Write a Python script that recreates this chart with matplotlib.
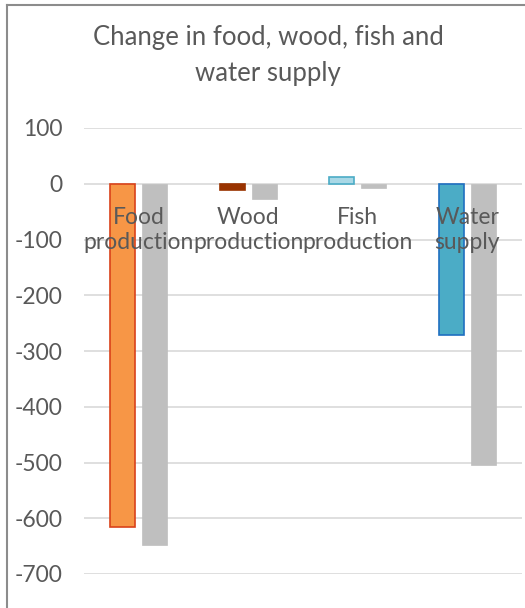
import matplotlib.pyplot as plt
import numpy as np
from matplotlib.lines import Line2D

plt.rcParams['font.family'] = ['Lato', 'DejaVu Sans']
plt.rcParams['axes.unicode_minus'] = False

categories = ["Food\nproduction", "Wood\nproduction", "Fish\nproduction", "Water\nsupply"]
change_a = [-616, -12, 12, -271]
change_b = [-648, -27, -7, -504]

face_a = ["#F79646", "#993300", "#A9D8E6", "#4BACC6"]
edge_a = ["#D9421A", "#993300", "#4BACC6", "#1F6FC0"]
gray = "#BFBFBF"
text_color = "#595959"

fig = plt.figure(figsize=(5.25, 6.08), dpi=100)
ax = fig.add_axes([84 / 525, 34 / 608, 438 / 525, 446 / 608])

x = np.arange(len(categories))
w = 0.23
off = 0.145
ax.bar(x - off, change_a, width=w, color=face_a, edgecolor=edge_a, linewidth=1.2, zorder=3)
ax.bar(x + off, change_b, width=w, color=gray, edgecolor=gray, linewidth=0.5, zorder=3)

ax.set_xlim(-0.5, len(categories) - 0.5)
ax.set_ylim(-700, 100)
ax.set_yticks(np.arange(-700, 101, 100))
ax.grid(axis='y', color="#D9D9D9", linewidth=1.2, zorder=0)
ax.set_axisbelow(True)
for s in ax.spines.values():
    s.set_visible(False)
ax.set_xticks([])
ax.tick_params(axis='y', length=0, pad=15.5, labelsize=16.5, labelcolor=text_color)

for xi, lab in zip(x, categories):
    ax.text(xi, -83, lab, ha='center', va='center', fontsize=16.5, color=text_color,
            linespacing=1.28, zorder=4)

fig.text(268 / 525, 1 - 56 / 608, "Change in food, wood, fish and\nwater supply",
         ha='center', va='center', fontsize=18.5, color=text_color, linespacing=1.55)

# chart frame: only the top and left edges fall inside the image
frame = dict(color="#8C8C8C", linewidth=1.5, transform=fig.transFigure)
fig.lines.append(Line2D([7 / 525, 7 / 525], [0, 1 - 5 / 608], **frame))
fig.lines.append(Line2D([7 / 525, 1], [1 - 5 / 608, 1 - 5 / 608], **frame))

fig.savefig("out.png", dpi=100)
